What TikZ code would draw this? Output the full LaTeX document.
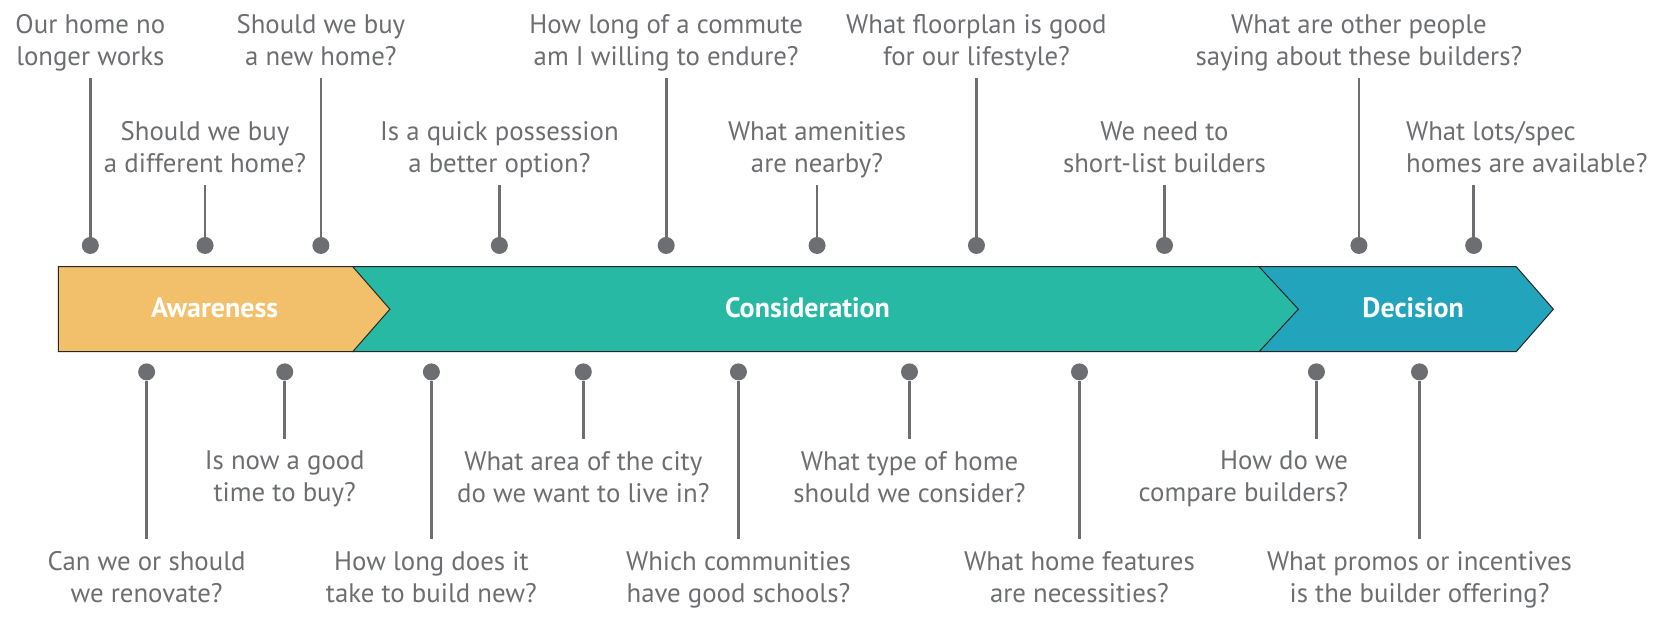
\documentclass[tikz,border=0pt]{standalone}
\usepackage{fontspec}
\setmainfont{PT Sans}
\usetikzlibrary{positioning}

\definecolor{qgrey}{HTML}{6D6E71}
\definecolor{awarefill}{HTML}{F2BF6B}
\definecolor{considfill}{HTML}{27B9A3}
\definecolor{decidefill}{HTML}{23A4BD}

\begin{document}
\begin{tikzpicture}[x=0.53125pt,y=-0.53125pt,
  question/.style={align=center,inner sep=0pt,text=qgrey,
    font=\fontsize{13.4}{16}\selectfont,text depth=3.4pt},
  stem/.style={draw=qgrey,line width=1.35pt},
  knob/.style={circle,fill=qgrey,inner sep=0pt,minimum size=8.5pt},
  phase/.style={draw=black!85,line width=0.5pt},
  phaselabel/.style={text=white,font=\fontsize{14}{16}\selectfont\bfseries}]

\useasboundingbox (0,0) rectangle (1568,584.5);

% the three phases, drawn back to front
\draw[phase,fill=decidefill] (1185,251) -- (1427,251) -- (1462,291)
  -- (1427,331) -- (1185,331) -- cycle;
\draw[phase,fill=considfill] (332,251) -- (1185,251) -- (1222,291)
  -- (1185,331) -- (332,331) -- cycle;
\draw[phase,fill=awarefill] (55,251) -- (332,251) -- (367,291)
  -- (332,331) -- (55,331) -- cycle;
\node (aware) [phaselabel] at (202,290) {Awareness};
\node (consid) [phaselabel] at (760,290) {Consideration};
\node (decide) [phaselabel] at (1330,290) {Decision};

% questions above the bar
\coordinate (t1top) at (85,73);
\node (t1d) [knob] at (85,231) {};
\node (t1) [question,above=2.5pt of t1top] {Our home no\\longer works};
\draw[stem] (t1d) -- (t1top);

\coordinate (t2top) at (193,174);
\node (t2d) [knob] at (193,231) {};
\node (t2) [question,above=2.5pt of t2top] {Should we buy\\a different home?};
\draw[stem] (t2d) -- (t2top);

\coordinate (t3top) at (302,73);
\node (t3d) [knob] at (302,231) {};
\node (t3) [question,above=2.5pt of t3top] {Should we buy\\a new home?};
\draw[stem] (t3d) -- (t3top);

\coordinate (t4top) at (470,174);
\node (t4d) [knob] at (470,231) {};
\node (t4) [question,above=2.5pt of t4top] {Is a quick possession\\a better option?};
\draw[stem] (t4d) -- (t4top);

\coordinate (t5top) at (627,73);
\node (t5d) [knob] at (627,231) {};
\node (t5) [question,above=2.5pt of t5top] {How long of a commute\\am I willing to endure?};
\draw[stem] (t5d) -- (t5top);

\coordinate (t6top) at (769,174);
\node (t6d) [knob] at (769,231) {};
\node (t6) [question,above=2.5pt of t6top] {What amenities\\are nearby?};
\draw[stem] (t6d) -- (t6top);

\coordinate (t7top) at (919,73);
\node (t7d) [knob] at (919,231) {};
\node (t7) [question,above=2.5pt of t7top] {What floorplan is good\\for our lifestyle?};
\draw[stem] (t7d) -- (t7top);

\coordinate (t8top) at (1096,174);
\node (t8d) [knob] at (1096,231) {};
\node (t8) [question,above=2.5pt of t8top] {We need to\\short-list builders};
\draw[stem] (t8d) -- (t8top);

\coordinate (t9top) at (1279,73);
\node (t9d) [knob] at (1279,231) {};
\node (t9) [question,above=2.5pt of t9top] {What are other people\\saying about these builders?};
\draw[stem] (t9d) -- (t9top);

\coordinate (t10top) at (1387,174);
\node (t10d) [knob] at (1387,231) {};
\node (t10) [question,align=left,above=2.5pt of t10top,anchor=south west,xshift=-34pt]
  {What lots/spec\\homes are available?};
\draw[stem] (t10d) -- (t10top);

% questions below the bar
\coordinate (b1end) at (138,507);
\node (b1d) [knob] at (138,350) {};
\node (b1) [question,below=6pt of b1end] {Can we or should\\we renovate?};
\draw[stem] (b1d) -- (b1end);

\coordinate (b2end) at (268,413);
\node (b2d) [knob] at (268,350) {};
\node (b2) [question,below=6pt of b2end] {Is now a good\\time to buy?};
\draw[stem] (b2d) -- (b2end);

\coordinate (b3end) at (406,507);
\node (b3d) [knob] at (406,350) {};
\node (b3) [question,below=6pt of b3end] {How long does it\\take to build new?};
\draw[stem] (b3d) -- (b3end);

\coordinate (b4end) at (549,413);
\node (b4d) [knob] at (549,350) {};
\node (b4) [question,below=6pt of b4end] {What area of the city\\do we want to live in?};
\draw[stem] (b4d) -- (b4end);

\coordinate (b5end) at (695,507);
\node (b5d) [knob] at (695,350) {};
\node (b5) [question,below=6pt of b5end] {Which communities\\have good schools?};
\draw[stem] (b5d) -- (b5end);

\coordinate (b6end) at (856,413);
\node (b6d) [knob] at (856,350) {};
\node (b6) [question,below=6pt of b6end] {What type of home\\should we consider?};
\draw[stem] (b6d) -- (b6end);

\coordinate (b7end) at (1016,507);
\node (b7d) [knob] at (1016,350) {};
\node (b7) [question,below=6pt of b7end] {What home features\\are necessities?};
\draw[stem] (b7d) -- (b7end);

\coordinate (b8end) at (1239,413);
\node (b8d) [knob] at (1239,350) {};
\node (b8) [question,align=right,below=6pt of b8end,anchor=north east,xshift=16pt]
  {How do we\\compare builders?};
\draw[stem] (b8d) -- (b8end);

\coordinate (b9end) at (1336,507);
\node (b9d) [knob] at (1336,350) {};
\node (b9) [question,below=6pt of b9end] {What promos or incentives\\is the builder offering?};
\draw[stem] (b9d) -- (b9end);
\end{tikzpicture}
\end{document}
